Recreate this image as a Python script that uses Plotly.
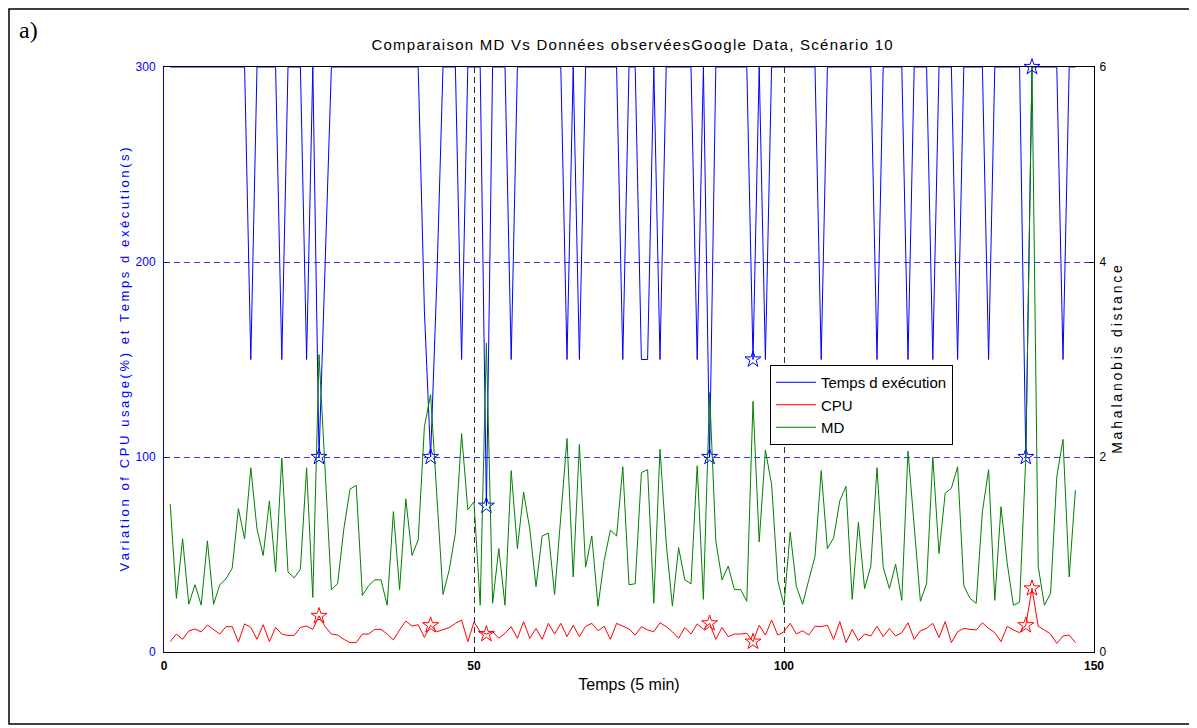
import plotly.graph_objects as go

# ---------------- data ----------------
time_steps = list(range(1, 148))

temps_execution = [
    300, 300, 300, 300, 300, 300, 300, 300, 300, 300,
    300, 300, 300, 150, 300, 300, 300, 300, 150, 300,
    300, 300, 150, 300, 100, 200, 300, 300, 300, 300,
    300, 300, 300, 300, 300, 300, 300, 300, 300, 300,
    300, 175, 100, 190, 300, 300, 300, 150, 300, 300,
    300, 75, 300, 300, 300, 150, 300, 300, 300, 300,
    300, 300, 300, 300, 150, 300, 150, 300, 300, 300,
    300, 300, 300, 150, 300, 300, 150, 150, 300, 150,
    300, 300, 300, 300, 300, 150, 300, 100, 300, 300,
    300, 300, 300, 300, 150, 300, 150, 300, 300, 300,
    300, 300, 300, 300, 300, 150, 300, 300, 300, 300,
    300, 300, 300, 300, 150, 300, 300, 300, 300, 150,
    300, 300, 300, 150, 300, 300, 300, 150, 300, 300,
    300, 300, 150, 300, 300, 300, 300, 300, 100, 300,
    300, 300, 300, 300, 150, 300, 300,
]

cpu_usage = [
    5.3, 9.2, 6.5, 10.8, 11.8, 10.3, 13.8, 11.3, 9.2, 13.0,
    13.0, 5.1, 14.4, 12.6, 6.5, 14.0, 5.3, 12.6, 9.2, 8.5,
    8.5, 12.6, 13.3, 11.6, 18.5, 13.0, 9.2, 8.7, 6.5, 4.8,
    4.8, 9.2, 9.2, 11.6, 11.6, 9.2, 6.2, 11.3, 15.9, 13.3,
    14.0, 7.5, 13.7, 10.4, 11.3, 12.5, 14.7, 16.4, 5.3, 15.4,
    10.4, 9.2, 10.4, 7.0, 9.6, 13.0, 7.0, 15.6, 7.0, 12.1,
    6.5, 14.7, 9.2, 14.7, 7.9, 13.7, 7.9, 13.2, 14.7, 10.9,
    13.2, 6.5, 14.7, 13.2, 11.8, 8.7, 13.0, 11.3, 10.4, 15.0,
    13.0, 10.4, 7.0, 12.6, 9.2, 14.4, 11.6, 14.7, 6.5, 12.6,
    7.9, 9.2, 9.2, 9.6, 5.3, 13.7, 8.7, 16.4, 8.7, 10.4,
    14.7, 9.2, 10.9, 8.7, 13.2, 13.0, 13.7, 6.5, 15.6, 4.8,
    11.6, 5.8, 9.2, 8.2, 13.2, 7.9, 12.1, 8.2, 9.9, 15.0,
    6.5, 10.9, 12.1, 14.7, 7.4, 15.6, 4.8, 10.4, 12.1, 11.6,
    11.3, 15.0, 12.1, 9.9, 5.3, 13.2, 11.3, 9.9, 13.7, 32.6,
    13.2, 11.3, 9.2, 4.4, 8.2, 8.7, 4.8,
]

mahalanobis = [
    1.52, 0.55, 1.16, 0.49, 0.69, 0.48, 1.14, 0.49, 0.69, 0.75,
    0.86, 1.47, 1.16, 1.89, 1.26, 0.99, 1.55, 0.82, 1.99, 0.82,
    0.76, 0.85, 1.89, 0.56, 3.05, 1.80, 0.64, 0.70, 1.26, 1.67,
    1.71, 0.58, 0.68, 0.74, 0.74, 0.48, 1.44, 0.64, 1.57, 0.99,
    1.15, 2.31, 2.64, 1.61, 0.59, 0.84, 1.22, 2.24, 1.46, 1.54,
    0.48, 3.17, 0.50, 1.06, 0.48, 1.86, 1.06, 1.64, 1.26, 0.67,
    1.19, 1.22, 0.59, 1.39, 2.19, 0.77, 2.13, 0.87, 1.19, 0.47,
    0.94, 1.25, 1.19, 1.90, 0.69, 0.70, 1.84, 1.87, 0.50, 2.08,
    1.12, 0.47, 1.07, 0.74, 0.70, 1.91, 0.54, 2.66, 1.14, 0.74,
    0.88, 0.64, 0.64, 0.52, 2.57, 1.13, 2.07, 1.72, 0.73, 0.48,
    1.23, 0.67, 0.49, 0.74, 0.98, 1.86, 1.06, 1.17, 1.55, 1.70,
    0.54, 1.33, 0.65, 0.88, 1.89, 0.87, 0.65, 0.90, 0.53, 2.06,
    1.29, 0.52, 0.70, 2.00, 1.01, 1.63, 1.68, 1.90, 0.68, 0.55,
    0.50, 1.44, 1.87, 0.53, 1.49, 0.91, 0.48, 0.51, 1.99, 6.00,
    0.88, 0.48, 0.60, 1.80, 2.18, 0.77, 1.66,
]

# time steps flagged as anomalies (star markers)
anomaly_steps = [25, 43, 52, 88, 95, 139, 140]

x_ticks = [0, 50, 100, 150]
left_ticks = [0, 100, 200, 300]
right_ticks = [0, 2, 4, 6]

# ---------------- figure ----------------
FONT = "Liberation Sans, Arial, sans-serif"
BLUE = "#0000ff"
GRID_BLUE = "#3333ff"
RED = "#ff0000"
GREEN = "#008000"

anom_exec = [temps_execution[time_steps.index(s)] for s in anomaly_steps]
anom_cpu = [cpu_usage[time_steps.index(s)] for s in anomaly_steps]


def spaced(txt, sep="\u2009"):
    return sep.join(list(txt))


# page is shown with an 8px body margin; the figure is sized to fill the window
W, H = 1189, 720
ML, MR, MT, MB = 156, 103, 59, 76
PW = W - ML - MR  # plot width in px
PH = H - MT - MB  # plot height in px


def px_x(p):  # window pixel -> paper x
    return (p - 8 - ML) / PW


def px_y(p):  # window pixel -> paper y
    return (H - MB - (p - 8)) / PH


fig = go.Figure()

fig.add_trace(go.Scatter(
    x=time_steps, y=temps_execution, mode="lines", name="Temps d exécution",
    line=dict(color=BLUE, width=1), legendgroup="a", yaxis="y"))
fig.add_trace(go.Scatter(
    x=time_steps, y=cpu_usage, mode="lines", name="CPU",
    line=dict(color=RED, width=1), legendgroup="b", yaxis="y"))
fig.add_trace(go.Scatter(
    x=anomaly_steps, y=anom_exec, mode="markers", showlegend=False,
    marker=dict(symbol="star-open", size=12, color=BLUE, line=dict(width=1, color=BLUE)),
    cliponaxis=False, yaxis="y"))
fig.add_trace(go.Scatter(
    x=anomaly_steps, y=anom_cpu, mode="markers", showlegend=False,
    marker=dict(symbol="star-open", size=12, color=RED, line=dict(width=1, color=RED)),
    cliponaxis=False, yaxis="y"))
fig.add_trace(go.Scatter(
    x=time_steps, y=mahalanobis, mode="lines", name="MD",
    line=dict(color=GREEN, width=1), legendgroup="c", yaxis="y2"))

fig.update_layout(
    width=W, height=H,
    margin=dict(l=ML, r=MR, t=MT, b=MB, autoexpand=False),
    paper_bgcolor="white", plot_bgcolor="white",
    font=dict(family=FONT, size=12, color="black"),
    title=dict(text=spaced("Comparaison MD Vs Données observéesGoogle Data, Scénario 10", "\u200a"),
               x=px_x(632), xref="paper", xanchor="center",
               y=1 - 37 / H, yanchor="middle",
               font=dict(family=FONT, size=15, color="black")),
    xaxis=dict(range=[0, 150], tickvals=x_ticks, ticks="inside", ticklen=5,
               tickcolor="black", showline=True, linecolor="black", linewidth=1,
               mirror=True, showgrid=True, gridcolor="#303030", griddash="6px,4px",
               gridwidth=1, zeroline=False, ticklabelstandoff=3,
               tickfont=dict(family=FONT, size=12, color="black", weight="bold"),
               title=dict(text="Temps (5 min)", standoff=6,
                          font=dict(family=FONT, size=16, color="black"))),
    yaxis=dict(range=[0, 300], tickvals=left_ticks, ticks="inside", ticklen=5,
               tickcolor=BLUE, showline=True, linecolor=BLUE, linewidth=1,
               showgrid=True, gridcolor=GRID_BLUE, griddash="6px,4px", gridwidth=1,
               zeroline=False, ticklabelstandoff=5,
               tickfont=dict(family=FONT, size=12, color=BLUE),
               title=dict(text=spaced("Variation of CPU usage(%) et Temps d exécution(s)"),
                          standoff=3, font=dict(family=FONT, size=13, color=BLUE))),
    yaxis2=dict(range=[0, 6], tickvals=right_ticks, overlaying="y", side="right",
                ticks="inside", ticklen=5, tickcolor="black", showline=True,
                linecolor="black", linewidth=1,
                showgrid=True, gridcolor=GRID_BLUE, griddash="6px,4px", gridwidth=1,
                zeroline=False, ticklabelstandoff=2,
                tickfont=dict(family=FONT, size=12, color="black"),
                title=dict(text=spaced("Mahalanobis distance"), standoff=6,
                           font=dict(family=FONT, size=14, color="black"))),
    legend=dict(x=px_x(770), y=px_y(365), xanchor="left", yanchor="top",
                bgcolor="white", bordercolor="black", borderwidth=1,
                font=dict(family=FONT, size=15, color="black"),
                itemwidth=40, tracegroupgap=0, traceorder="grouped"),
    showlegend=True,
)

# outer frame of the figure and panel label
fig.add_shape(type="rect", xref="paper", yref="paper",
              x0=px_x(9), x1=px_x(1193),
              y0=px_y(724), y1=px_y(9),
              line=dict(color="black", width=1.5), fillcolor="rgba(0,0,0,0)")
fig.add_annotation(text="a)", xref="paper", yref="paper",
                   x=px_x(17), y=px_y(30),
                   xanchor="left", yanchor="middle", showarrow=False,
                   font=dict(family="Liberation Serif, Times New Roman, serif", size=24, color="black"))

fig.write_html("out.html")
